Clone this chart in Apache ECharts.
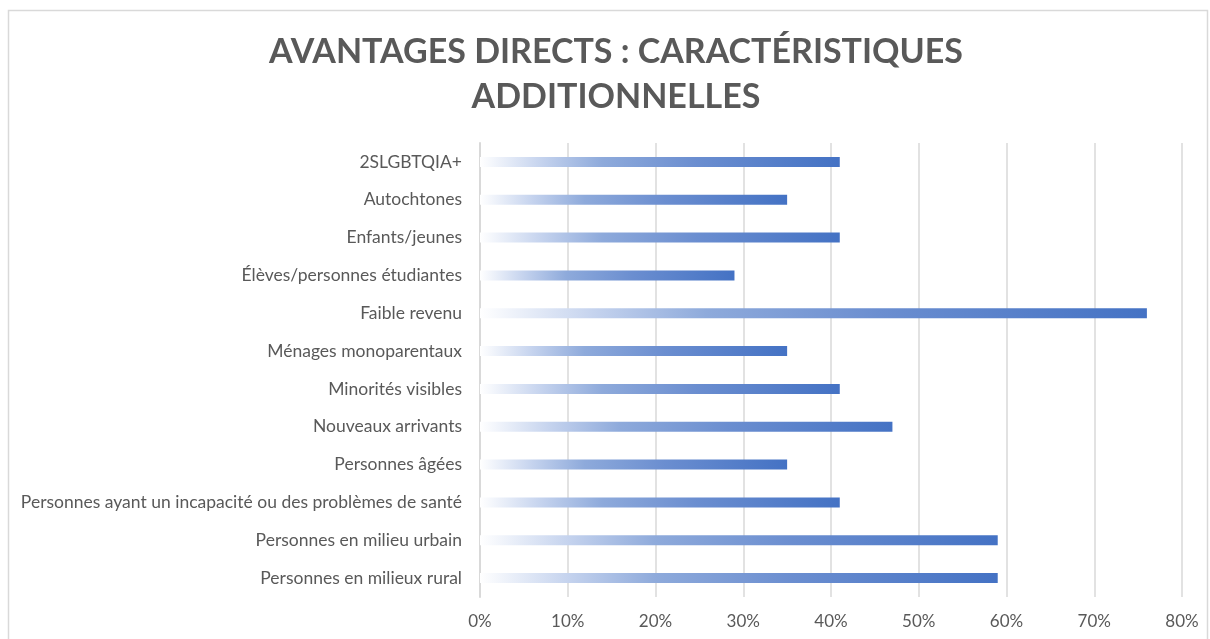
<!DOCTYPE html>
<html><head><meta charset="utf-8">
<script src="https://cdn.jsdelivr.net/npm/echarts@6/dist/echarts.min.js"></script>
<style>html,body{margin:0;padding:0;background:#fff}#c{width:1210px;height:639px}</style>
</head><body><div id="c"></div>
<script>
const categories = ["2SLGBTQIA+","Autochtones","Enfants/jeunes","Élèves/personnes étudiantes","Faible revenu","Ménages monoparentaux","Minorités visibles","Nouveaux arrivants","Personnes âgées","Personnes ayant un incapacité ou des problèmes de santé","Personnes en milieu urbain","Personnes en milieux rural"];
const values = [41,35,41,29,76,35,41,47,35,41,59,59];
const titleLines = ["AVANTAGES DIRECTS : CARACTÉRISTIQUES","ADDITIONNELLES"];
const chart = echarts.init(document.getElementById('c'));
chart.setOption({
  animation:false,
  title:{text:titleLines.join('\n'),left:611,textAlign:'center',top:25,
    textStyle:{fontFamily:'Lato',fontWeight:'bold',fontSize:34,color:'#595959',lineHeight:45}},
  graphic:[{type:'rect',shape:{x:8.5,y:10.5,width:1199,height:640},style:{fill:'none',stroke:'#d9d9d9',lineWidth:1.5},silent:true}],
  grid:{left:480,right:28,top:143,bottom:42},
  xAxis:{type:'value',min:0,max:80,interval:10,
    axisLabel:{formatter:'{value}%',color:'#595959',fontFamily:'Lato',fontSize:17,margin:16},
    axisLine:{show:false},axisTick:{show:false},
    splitLine:{lineStyle:{color:'#d9d9d9',width:1.5}}},
  yAxis:{type:'category',data:categories,inverse:true,
    axisLabel:{color:'#595959',fontFamily:'Lato',fontSize:17.5,margin:18},
    axisLine:{lineStyle:{color:'#d9d9d9',width:2}},axisTick:{show:false}},
  series:[{type:'bar',data:values,barWidth:10,
    itemStyle:{color:new echarts.graphic.LinearGradient(0,0,1,0,[
      {offset:0,color:'#ffffff'},{offset:0.17,color:'#c5d3ee'},{offset:0.34,color:'#8eaadb'},
      {offset:0.6,color:'#6b8ed0'},{offset:1,color:'#4472c4'}])}}]
});
</script></body></html>
